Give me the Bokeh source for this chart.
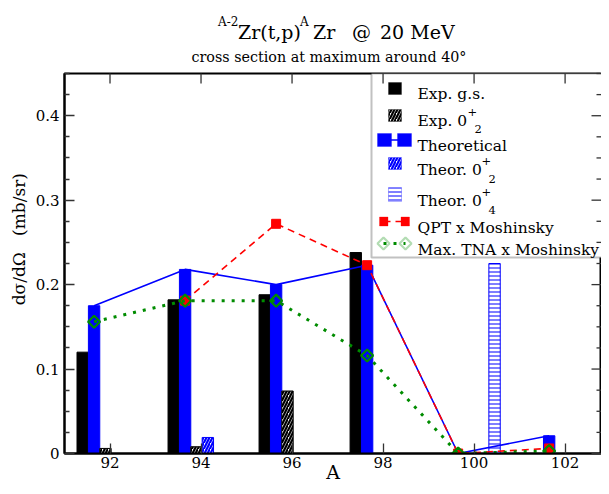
import numpy as np
from bokeh.plotting import figure
from bokeh.models import (ColumnDataSource, Range1d, FixedTicker, Label, Div,
                          BoxAnnotation, PolyAnnotation, Arrow)
from bokeh.layouts import column
from bokeh.transform import dodge
from bokeh.embed import file_html
from bokeh.resources import INLINE

# ---------------- data ----------------
A = [92, 94, 96, 98, 100, 102]
exp_gs = [0.120, 0.182, 0.188, 0.238, 0.0, 0.0]
exp_02 = [0.006, 0.008, 0.074, 0.0, 0.0, 0.0]
theo = [0.175, 0.218, 0.200, 0.223, 0.0, 0.021]
theo_02 = [0.0, 0.019, 0.0, 0.0, 0.0, 0.0]
theo_04 = [0.0, 0.0, 0.0, 0.0, 0.225, 0.0]
qpt_A = [94, 96, 98, 100, 102]
qpt = [0.181, 0.272, 0.223, 0.0, 0.006]
tna = [0.156, 0.181, 0.181, 0.116, 0.0, 0.003]

x_ticks = [92, 94, 96, 98, 100, 102]
y_ticks = [0, 0.1, 0.2, 0.3, 0.4]
y_minor = [0.025, 0.05, 0.075, 0.125, 0.15, 0.175, 0.225, 0.25, 0.275,
           0.325, 0.35, 0.375, 0.425, 0.45]

FONT = "DejaVu Serif"
BLUE = "#0000ff"
RED = "#ff0000"
GREEN = "#008c00"
TICK = "#333333"

W = 601
TH = 65                   # title block height
PH = 486 - TH             # plot height
ML, MR, MT, MB = 64, 0, 8, 33
FL = ML                   # picture x of frame left
FB = TH + PH - MB         # picture y of frame bottom
FW = W - ML - MR
FH = PH - MT - MB
XMIN, XMAX = 91, 102.8
YMIN, YMAX = 0, 0.45


def sx(px):
    return px - FL


def sy(py):
    return FB - py


src = ColumnDataSource(dict(A=A, exp_gs=exp_gs, exp_02=exp_02, theo=theo,
                            theo_02=theo_02, theo_04=theo_04, tna=tna))
qsrc = ColumnDataSource(dict(A=qpt_A, qpt=qpt))

p = figure(width=W, height=PH, x_range=Range1d(XMIN, XMAX), y_range=Range1d(YMIN, YMAX),
           output_backend="svg", toolbar_location=None, margin=0,
           min_border_left=ML, min_border_right=MR, min_border_top=MT, min_border_bottom=MB)
p.grid.visible = False
p.outline_line_color = "black"
p.outline_line_width = 2
p.background_fill_color = "white"
p.border_fill_color = "white"

BW = 0.25
p.vbar(x=dodge("A", -0.6, range=p.x_range), top="exp_gs", width=BW, source=src,
       fill_color="black", line_color="black")
p.vbar(x=dodge("A", -0.35, range=p.x_range), top="theo", width=BW, source=src,
       fill_color=BLUE, line_color=BLUE)
p.vbar(x=dodge("A", -0.1, range=p.x_range), top="exp_02", width=BW, source=src,
       fill_color="white", line_color="black", hatch_pattern="/", hatch_color="black",
       hatch_scale=6, hatch_weight=2.2)
p.vbar(x=dodge("A", 0.15, range=p.x_range), top="theo_02", width=BW, source=src,
       fill_color="white", line_color=BLUE, hatch_pattern="/", hatch_color=BLUE,
       hatch_scale=6, hatch_weight=2.2)
p.vbar(x=dodge("A", 0.45, range=p.x_range), top="theo_04", width=BW, source=src,
       fill_color="white", line_color=BLUE, hatch_pattern="-", hatch_color=BLUE,
       hatch_scale=4, hatch_weight=1)

p.line(x=dodge("A", -0.35, range=p.x_range), y="theo", source=src,
       line_color=BLUE, line_width=1.6)
p.line(x=dodge("A", -0.35, range=p.x_range), y="qpt", source=qsrc,
       line_color=RED, line_width=1.6, line_dash="7 5")
p.scatter(x=dodge("A", -0.35, range=p.x_range), y="qpt", source=qsrc, marker="square",
          size=9, fill_color=RED, line_color=RED)
p.line(x=dodge("A", -0.35, range=p.x_range), y="tna", source=src,
       line_color=GREEN, line_width=3, line_dash="3 7")
p.scatter(x=dodge("A", -0.35, range=p.x_range), y="tna", source=src, marker="square",
          angle=np.pi / 4, size=8.5, fill_color=None, line_color=GREEN, line_width=2.2)

# ---------------- axes ----------------
xt = FixedTicker(ticks=x_ticks, minor_ticks=[])
yt = FixedTicker(ticks=y_ticks, minor_ticks=y_minor)
for ax in (p.xaxis[0], p.yaxis[0]):
    ax.axis_line_width = 2
    ax.axis_line_color = "black"
    ax.major_tick_in = 10
    ax.major_tick_out = 0
    ax.minor_tick_in = 5
    ax.minor_tick_out = 0
    ax.major_tick_line_width = 1.3
    ax.minor_tick_line_width = 1.3
    ax.major_tick_line_color = TICK
    ax.minor_tick_line_color = TICK
    ax.major_label_text_font = FONT
    ax.major_label_text_font_size = "15px"
    ax.major_label_text_color = "black"
    ax.axis_label_text_font = FONT
    ax.axis_label_text_font_style = "normal"
    ax.axis_label_text_color = "black"

p.xaxis.ticker = xt
p.yaxis.ticker = yt
p.yaxis.major_label_overrides = {0: "0", 0.1: "0.1", 0.2: "0.2", 0.3: "0.3", 0.4: "0.4"}
p.xaxis.major_label_standoff = 3
p.yaxis.major_label_standoff = 5
p.xaxis.axis_label = "A"
p.xaxis.axis_label_text_font_size = "19px"
p.xaxis.axis_label_standoff = -10
p.yaxis.axis_label = "\u00a0" * 9 + "dσ/dΩ\u00a0\u00a0\u00a0(mb/sr)"
p.yaxis.axis_label_text_font_size = "17px"
p.yaxis.axis_label_standoff = 4

# mirrored ticks on the top and right sides
dy_major = 10 * (YMAX - YMIN) / FH
dx_major = 10 * (XMAX - XMIN) / FW
dx_minor = 5 * (XMAX - XMIN) / FW
nx = len(x_ticks)
p.segment(x0=x_ticks, y0=[YMAX] * nx, x1=x_ticks, y1=[YMAX - dy_major] * nx,
          line_color=TICK, line_width=1.3, level="overlay")
ny = len(y_ticks)
p.segment(x0=[XMAX] * ny, y0=y_ticks, x1=[XMAX - dx_major] * ny, y1=y_ticks,
          line_color=TICK, line_width=1.3, level="overlay")
nm = len(y_minor)
p.segment(x0=[XMAX] * nm, y0=y_minor, x1=[XMAX - dx_minor] * nm, y1=y_minor,
          line_color=TICK, line_width=1.3, level="overlay")


def lab(text, px, py, size, align="left", baseline="alphabetic"):
    p.add_layout(Label(x=sx(px), y=sy(py), x_units="screen", y_units="screen", text=text,
                       text_font=FONT, text_font_size=f"{size}px", text_color="black",
                       text_align=align, text_baseline=baseline))


def box(l, r, t, b, **kw):
    p.add_layout(BoxAnnotation(left=sx(l), right=sx(r), top=sy(t), bottom=sy(b),
                               left_units="screen", right_units="screen",
                               top_units="screen", bottom_units="screen", **kw))


# ---------------- legend ----------------
box(371, 603, 73, 257, fill_color="white", fill_alpha=1, line_color="#333333", line_width=2)
TX = 417
LS = 15.5
SS = 11.5
# Exp g.s.
box(388, 401, 82, 94, fill_color="black", fill_alpha=1, line_color="black")
lab("Exp. g.s.", TX, 93, LS)
# Exp 0+2
box(388, 401, 109, 121, fill_color="white", fill_alpha=1, line_color="black", line_width=1,
    hatch_pattern="/", hatch_color="black", hatch_scale=6, hatch_weight=2.2)
lab("Exp. 0", TX, 120, LS)
lab("+", 467, 111, SS)
lab("2", 474, 128, SS)
# Theoretical
p.add_layout(Arrow(end=None, x_start=sx(384), y_start=sy(139.5), x_end=sx(404), y_end=sy(139.5),
                   start_units="screen", end_units="screen", line_color=BLUE, line_width=1.6))
box(377, 391, 133, 146, fill_color=BLUE, fill_alpha=1, line_color=BLUE)
box(397, 411, 133, 146, fill_color=BLUE, fill_alpha=1, line_color=BLUE)
lab("Theoretical", TX, 145, LS)
# Theor 0+2
box(388, 401, 157, 169, fill_color="white", fill_alpha=1, line_color=BLUE, line_width=1,
    hatch_pattern="/", hatch_color=BLUE, hatch_scale=6, hatch_weight=2.2)
lab("Theor. 0", TX, 169, LS)
lab("+", 481, 160, SS)
lab("2", 488, 178, SS)
# Theor 0+4
box(388, 401, 187, 201, fill_color="white", fill_alpha=1, line_color=BLUE, line_width=1,
    hatch_pattern="-", hatch_color=BLUE, hatch_scale=4, hatch_weight=1)
lab("Theor. 0", TX, 200, LS)
lab("+", 481, 191, SS)
lab("4", 488, 209, SS)
# QPT
p.add_layout(Arrow(end=None, x_start=sx(383), y_start=sy(221), x_end=sx(405), y_end=sy(221),
                   start_units="screen", end_units="screen", line_color=RED, line_width=1.6,
                   line_dash="7 5"))
box(379, 387.5, 216.5, 225.5, fill_color=RED, fill_alpha=1, line_color=RED)
box(400.5, 409, 216.5, 225.5, fill_color=RED, fill_alpha=1, line_color=RED)
lab("QPT x Moshinsky", TX, 227, LS)
# Max TNA
p.add_layout(Arrow(end=None, x_start=sx(383), y_start=sy(243), x_end=sx(405), y_end=sy(243),
                   start_units="screen", end_units="screen", line_color=GREEN, line_width=3,
                   line_dash="3 7"))
for cx in (383, 405):
    p.add_layout(PolyAnnotation(xs=[sx(cx - 6), sx(cx), sx(cx + 6), sx(cx)],
                                ys=[sy(243), sy(237), sy(243), sy(249)],
                                xs_units="screen", ys_units="screen",
                                fill_color=None, fill_alpha=0, line_color=GREEN, line_width=2.2))
lab("Max. TNA x Moshinsky", TX, 249, LS)


# ---------------- title block (HTML, for super/subscripts) ----------------
def span(text, left, baseline, size, center=False):
    top = baseline - 0.9 * size
    tr = "transform:translateX(-50%);" if center else ""
    return (f'<span style="position:absolute;left:{left}px;top:{top:.1f}px;'
            f"font-family:'{FONT}',serif;"
            f'font-size:{size}px;line-height:1;white-space:nowrap;{tr}">{text}</span>')


title_html = (
    f'<div style="position:relative;width:{W}px;height:{TH}px;color:black;">'
    + span("A-2", 218, 27, 12)
    + span("Zr(t,p)", 238, 40, 19)
    + span("A", 300, 27, 12)
    + span("Zr", 313, 40, 19)
    + span("@", 352, 40, 19)
    + span("20 MeV", 380, 40, 19)
    + span("cross section at maximum around 40°", 329, 63, 14.3, center=True)
    + "</div>"
)
title = Div(text=title_html, width=W, height=TH, margin=0)

layout = column(title, p, spacing=0, margin=0)
open("out.html", "w").write(file_html(layout, INLINE))
